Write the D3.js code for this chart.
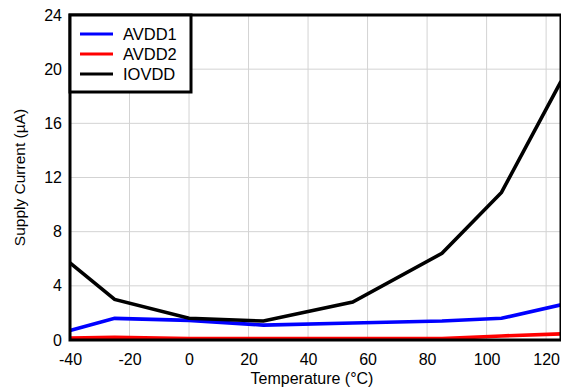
<!DOCTYPE html>
<html><head><meta charset="utf-8">
<script src="https://cdn.jsdelivr.net/npm/d3@7"></script>
<style>body{margin:0;background:#fff}svg{display:block;font-family:"Liberation Sans",Arial,sans-serif}</style>
</head><body><svg id="c" width="561" height="387"></svg>
<script>
const temps = [-40, -25, 0, 25, 55, 85, 105, 125];
const avdd1 = [0.7, 1.6, 1.45, 1.1, 1.25, 1.4, 1.6, 2.6];
const avdd2 = [0.15, 0.2, 0.1, 0.1, 0.1, 0.1, 0.3, 0.45];
const iovdd = [5.7, 3.0, 1.6, 1.4, 2.8, 6.4, 10.9, 19.1];
const seriesNames = ["AVDD1", "AVDD2", "IOVDD"];
const seriesColors = ["#0000ff", "#ff0000", "#000000"];
const xTicks = [-40, -20, 0, 20, 40, 60, 80, 100, 120];
const yTicks = [0, 4, 8, 12, 16, 20, 24];

const svg = d3.select("#c");
const FONT = "Liberation Sans, Arial, sans-serif";
const L = 70, R = 561, T = 15, B = 340;
const x = d3.scaleLinear().domain([-40, 125]).range([L, R]);
const y = d3.scaleLinear().domain([0, 24]).range([B, T]);

// grid
svg.append("g").selectAll("line").data(xTicks.slice(1)).join("line")
  .attr("x1", d => x(d)).attr("x2", d => x(d)).attr("y1", T).attr("y2", B)
  .attr("stroke", "#d3d3d3").attr("stroke-width", 1);
svg.append("g").selectAll("line").data(yTicks.slice(1, -1)).join("line")
  .attr("x1", L).attr("x2", R).attr("y1", d => y(d)).attr("y2", d => y(d))
  .attr("stroke", "#d3d3d3").attr("stroke-width", 1);

// axes labels
const xa = svg.append("g").attr("transform", `translate(0,${B})`)
  .call(d3.axisBottom(x).tickValues(xTicks).tickSize(0).tickPadding(14).tickFormat(d => String(d)));
xa.select(".domain").remove();
xa.selectAll("text").attr("font-size", 16).attr("fill", "#000").attr("font-family", FONT);
const ya = svg.append("g").attr("transform", `translate(${L},0)`)
  .call(d3.axisLeft(y).tickValues(yTicks).tickSize(0).tickPadding(8).tickFormat(d => String(d)));
ya.select(".domain").remove();
ya.selectAll("text").attr("font-size", 16).attr("fill", "#000").attr("font-family", FONT);

// lines
const data = [avdd1, avdd2, iovdd];
const line = d3.line().x((d, i) => x(temps[i])).y(d => y(d));
const order = [1, 0, 2];
order.forEach(k => {
  svg.append("path").datum(data[k]).attr("d", line)
    .attr("fill", "none").attr("stroke", seriesColors[k]).attr("stroke-width", 3.6)
    .attr("stroke-linejoin", "miter");
});

// frame
svg.append("rect").attr("x", L).attr("y", T).attr("width", R - L).attr("height", B - T)
  .attr("fill", "none").attr("stroke", "#000").attr("stroke-width", 3);

// legend
const lg = svg.append("g");
lg.append("rect").attr("x", L).attr("y", T).attr("width", 121).attr("height", 77)
  .attr("fill", "#fff").attr("stroke", "#000").attr("stroke-width", 3);
seriesNames.forEach((n, i) => {
  const yy = 34 + i * 20;
  lg.append("line").attr("x1", 80).attr("x2", 113).attr("y1", yy).attr("y2", yy)
    .attr("stroke", seriesColors[i]).attr("stroke-width", 3);
  lg.append("text").attr("x", 123).attr("y", yy + 6).attr("font-size", 16.5)
    .attr("font-family", FONT).text(n);
});

// titles
svg.append("text").attr("x", 312).attr("y", 384).attr("text-anchor", "middle")
  .attr("font-size", 16).attr("font-family", FONT).text("Temperature (°C)");
svg.append("text").attr("transform", `translate(25,${(T + B) / 2}) rotate(-90)`)
  .attr("text-anchor", "middle").attr("font-size", 15.5).attr("font-family", FONT)
  .text("Supply Current (µA)");
</script></body></html>
